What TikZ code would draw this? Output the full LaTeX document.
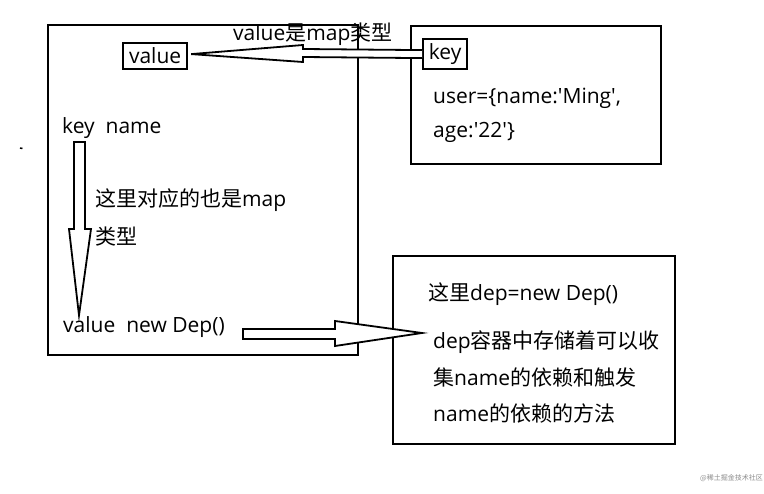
\documentclass[tikz,border=0pt]{standalone}
\usepackage{fontspec}
\setmainfont{Open Sans}
\newfontfamily\cjk{Noto Sans CJK SC}
\newfontfamily\sqfont{Open Sans}
\usetikzlibrary{calc}
\newcommand{\sq}{{\sqfont '}}
\begin{document}
\begin{tikzpicture}[x=1pt,y=-1pt,
  bigbox/.style={draw,line width=2.4pt,anchor=north west,inner sep=0pt},
  smallbox/.style={draw,line width=2.2pt,anchor=north west,inner sep=0pt,font=\fontsize{21}{25}\selectfont},
  txt/.style={anchor=west,inner sep=0pt,font=\fontsize{21}{25}\selectfont},
  fatarrow/.style={draw,line width=1.8pt,line join=miter,fill=white}]
\useasboundingbox[fill=white] (0,0) rectangle (764,494);
% boxes
\node[bigbox,minimum width=310pt,minimum height=330pt] (left) at (47,24) {};
\node[bigbox,minimum width=250pt,minimum height=138pt] (ur) at (410,25) {};
\node[bigbox,minimum width=282pt,minimum height=188pt] (br) at (392,255) {};
\node[smallbox,minimum width=64pt,minimum height=26pt] (valuebox) at (122,42) {value};
\node[smallbox,minimum width=44pt,minimum height=30pt] (keybox) at (422,38) {key};
% texts
\node[txt] (maptitle) at (233,34) {value{\cjk 是}map{\cjk 类型}};
\node[txt] (user1) at (433,98) {user=\{name:\sq Ming\sq,};
\node[txt] (user2) at (433,132) {age:\sq 22\sq\}};
\node[txt] (keyname) at (62,128) {key\ \ name};
\node[txt] (note1) at (95,200) {{\cjk 这里对应的也是}map};
\node[txt] (note2) at (95,237) {\cjk 类型};
\node[txt] (valnew) at (63,327) {value\ \ new Dep()};
\node[txt] (dephere) at (428,294) {{\cjk 这里}dep=new Dep()};
\node[txt] (dep1) at (433,342) {dep{\cjk 容器中存储着可以收}};
\node[txt] (dep2) at (433,378) {{\cjk 集}name{\cjk 的依赖和触发}};
\node[txt] (dep3) at (433,413) {name{\cjk 的依赖的方法}};
\node[anchor=west,inner sep=0pt,text=black!45,font=\cjk\fontsize{7}{8}\selectfont] (wm) at (700,478) {@稀土掘金技术社区};
\coordinate (dot) at (20,148);
\draw[line width=1.5pt] (dot) -- ++(2.5,0.5);
% arrows
\draw[fatarrow] ($(keybox.west)+(0,-4)$) -- (303,49) -- (303,45) -- ($(valuebox.east)+(3,-2)$) -- (303,62) -- (303,57) -- ($(keybox.west)+(0,4)$);
\draw[fatarrow] (74,142) -- (85,142) -- (85,229) -- (91,229) -- ($(valnew.north west)+(16,-1)$) -- (69,229) -- (74,229) -- cycle;
\coordinate (tail) at (243,334);
\draw[fatarrow] ($(tail)+(0,-5)$) -- (335,329) -- (335,321) -- ($(dep1.west)+(-11,-9)$) -- (335,346) -- (335,339) -- ($(tail)+(0,5)$) -- cycle;
\end{tikzpicture}
\end{document}
